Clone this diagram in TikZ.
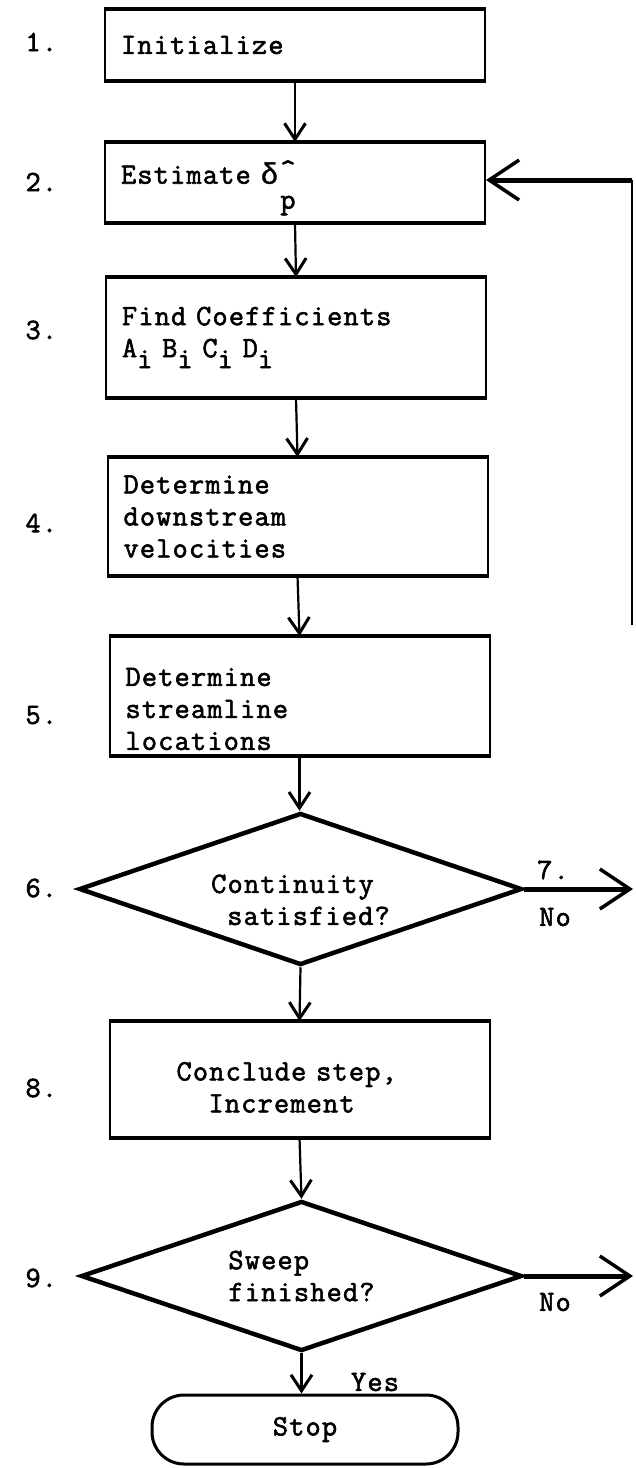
\documentclass[tikz,border=0pt]{standalone}
\usepackage{fontspec}
\usetikzlibrary{arrows.meta,shapes.geometric}
% typewriter face with a little extra letter spacing
\newfontfamily\typer[LetterSpace=4,FakeBold=2]{Latin Modern Mono}
\newfontfamily\grk[FakeBold=1]{Liberation Mono}
\newcommand{\lowi}{\raisebox{-11pt}{i}}
\newcommand{\tall}[1]{\rule{0pt}{#1}}
\begin{document}
\begin{tikzpicture}[x=1pt,y=-1pt,
  every node/.style={font=\typer\fontsize{29.5}{32}\selectfont},
  stepbox/.style={draw, rectangle, line width=2pt, minimum width=380pt,
    inner xsep=16pt, inner ysep=0pt, text width=348pt, align=left},
  rim/.style={line width=4.5pt},
  decision/.style={draw, diamond, shape aspect=2.9, line width=4.5pt, inner sep=0pt, align=left},
  terminal/.style={draw, rectangle, rounded corners=32pt, line width=3pt,
    minimum width=306pt, minimum height=69pt},
  stepno/.style={anchor=west},
  flow/.style={line width=2.2pt, -{Straight Barb[length=16pt,width=21pt,line width=3pt]}},
  bigflow/.style={line width=5pt, -{Straight Barb[length=30pt,width=40pt,line width=3.5pt]}},
  feedback/.style={line width=1.3pt}
]
\fill[white] (0,0) rectangle (635,1468);
\useasboundingbox (0,0) rectangle (635,1468);

% process steps
\node[stepbox, minimum height=70pt] (b1) at (295,45) {Initialize};
\node[stepbox, minimum height=79pt] (b2) at (295,182.5)
  {\tall{34pt}Estimate {\grk δ}\hspace{2pt}\rlap{\raisebox{5pt}{\^{}}}\raisebox{-25pt}{p}};
\node[stepbox, minimum height=119pt] (b3) at (296,337.5)
  {Find Coefficients\\A\lowi{} B\lowi{} C\lowi{} D\lowi};
\node[stepbox, minimum height=117pt] (b4) at (297.5,516.5)
  {Determine\\downstream\\velocities};
\node[stepbox, minimum height=118pt] (b5) at (299.5,696)
  {\tall{44pt}Determine\\streamline\\locations};
\node[decision, minimum width=443pt, minimum height=152pt] (d6) at (300.5,889)
  {\tall{40pt}Continuity\\\hspace*{16pt}satisfied?};
\node[stepbox, minimum height=115pt, inner xsep=67pt, text width=246pt] (b8) at (299.5,1079.5)
  {\tall{34pt}Conclude step,\\\hspace*{32pt}Increment};
\node[decision, minimum width=441pt, minimum height=150pt] (d9) at (301.5,1276)
  {Sweep\\finished?};
\node[terminal] (stop) at (305,1429.5) {Stop};

% heavier top and bottom rules of the boxes
\foreach \b in {b1,b2,b3,b4,b5,b8}
  \draw[rim] (\b.north west) -- (\b.north east) (\b.south west) -- (\b.south east);

% step numbers
\node[stepno] (n1) at (22,42) {1.};
\node[stepno] (n2) at (22,182) {2.};
\node[stepno] (n3) at (22,330) {3.};
\node[stepno] (n4) at (22,523) {4.};
\node[stepno] (n5) at (22,715) {5.};
\node[stepno] (n6) at (22,888) {6.};
\node[stepno] (n8) at (22,1088) {8.};
\node[stepno] (n9) at (22,1278) {9.};
\node (n7) at (553,870) {7.};
\node (no6) at (555,917) {No};
\node (no9) at (555,1302) {No};
\node (yes) at (375,1382) {Yes};

% main flow
\draw[flow] (b1.south) -- (b2.north);
\draw[flow] (b2.south) -- (b3.north);
\draw[flow] (b3.south) -- (b4.north);
\draw[flow] (b4.south) -- (b5.north);
\draw[flow] (b5.south) -- (b5.south |- d6.north);
\draw[flow] (d6.south) -- (b8.north);
\draw[flow] (b8.south) -- (d9.north);
\draw[flow] (d9.south) -- (d9.south |- stop.north);

% exits to the right
\coordinate (o7) at (633,889);
\coordinate (o9) at (633,1276);
\draw[bigflow] (d6.east) -- (o7);
\draw[bigflow] (d9.east) -- (o9);

% return path to step 2
\coordinate (lp) at (632,625);
\coordinate (lc) at (632,180);
\draw[feedback] (lp) -- (lc);
\draw[bigflow] (lc) -- (b2.east |- lc);
\end{tikzpicture}
\end{document}
